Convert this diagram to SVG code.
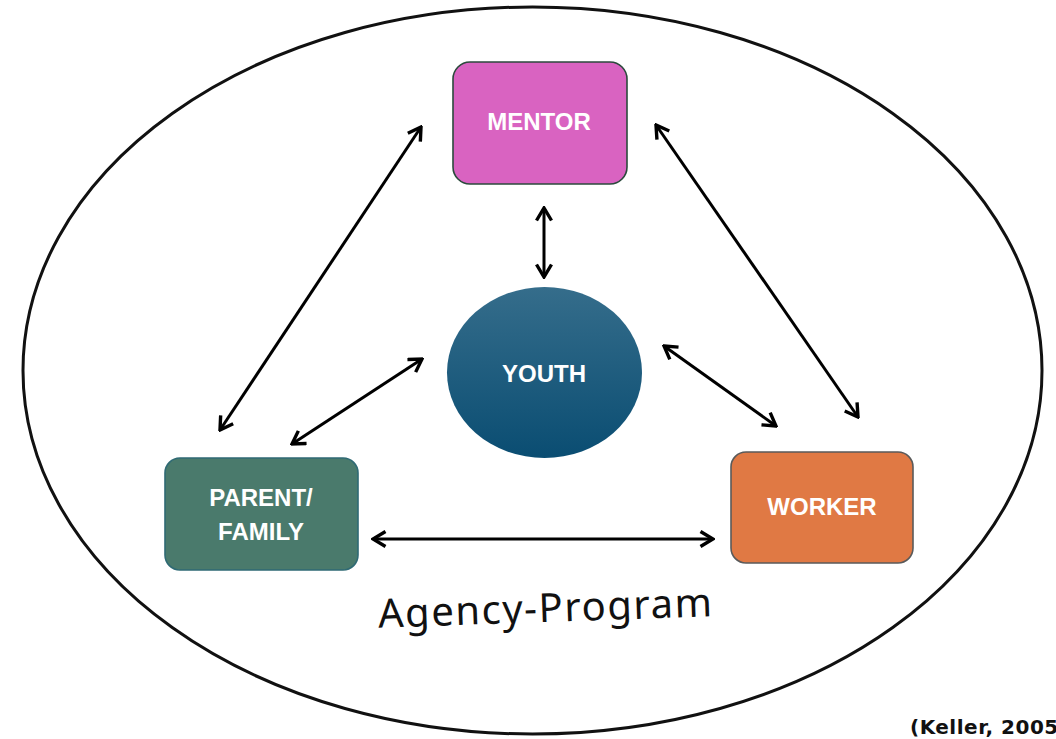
<svg xmlns="http://www.w3.org/2000/svg" width="1056" height="739" viewBox="0 0 1056 739">
  <style>
    .label { font-family: "Liberation Sans", Arial, sans-serif; font-weight: bold; font-size: 24px; fill: #ffffff; text-anchor: middle; }
    .link { stroke: #000000; stroke-width: 3; fill: none; marker-start: url(#head); marker-end: url(#head); }
    .box { stroke-width: 1.6; }
  </style>
  <defs>
    <marker id="head" viewBox="0 0 18 18" refX="16" refY="9" markerWidth="18" markerHeight="18" markerUnits="userSpaceOnUse" orient="auto-start-reverse">
      <path d="M3.5,1.5 L16,9 L3.5,16.5" fill="none" stroke="#000000" stroke-width="3.4" stroke-linejoin="miter"/>
    </marker>
    <linearGradient id="youthFill" x1="0" y1="0" x2="0" y2="1">
      <stop offset="0" stop-color="#356d8b"/>
      <stop offset="1" stop-color="#0a4d72"/>
    </linearGradient>
  </defs>

  <rect width="1056" height="739" fill="#ffffff"/>

  <!-- program boundary -->
  <g id="agency-program">
    <ellipse cx="532.5" cy="370.5" rx="509.5" ry="363.5" fill="none" stroke="#111111" stroke-width="3"/>
    <text x="545" y="622" transform="rotate(-2 545 610)" font-family="'Noto Sans', 'Open Sans', sans-serif" font-size="40" fill="#111111" text-anchor="middle" textLength="334">Agency-Program</text>
  </g>

  <!-- connectors -->
  <g id="connectors">
    <line class="link" x1="421" y1="127" x2="220" y2="430"/>
    <line class="link" x1="656" y1="125" x2="858" y2="417"/>
    <line class="link" x1="544" y1="208" x2="544" y2="277"/>
    <line class="link" x1="422" y1="359" x2="292" y2="444"/>
    <line class="link" x1="664" y1="346" x2="776" y2="426"/>
    <line class="link" x1="373" y1="539" x2="713" y2="539"/>
  </g>

  <g id="mentor">
    <rect class="box" x="453" y="62" width="174" height="122" rx="17" fill="#d963c1" stroke="#2b4a3c"/>
    <text class="label" x="539" y="130">MENTOR</text>
  </g>

  <g id="youth">
    <ellipse cx="544.5" cy="372.5" rx="97.5" ry="85.5" fill="url(#youthFill)"/>
    <text class="label" x="544" y="382">YOUTH</text>
  </g>

  <g id="parent-family">
    <rect class="box" x="165" y="458" width="193" height="112" rx="15" fill="#4a7a6c" stroke="#2f6a74"/>
    <text class="label" x="261" y="506">PARENT/</text>
    <text class="label" x="261" y="540">FAMILY</text>
  </g>

  <g id="worker">
    <rect class="box" x="731" y="452" width="182" height="111" rx="15" fill="#e07944" stroke="#5a5a5a"/>
    <text class="label" x="822" y="515">WORKER</text>
  </g>

  <text x="910" y="734" font-family="'DejaVu Sans', sans-serif" font-weight="bold" font-size="20" letter-spacing="0.5" fill="#111111">(Keller, 2005)</text>
</svg>
